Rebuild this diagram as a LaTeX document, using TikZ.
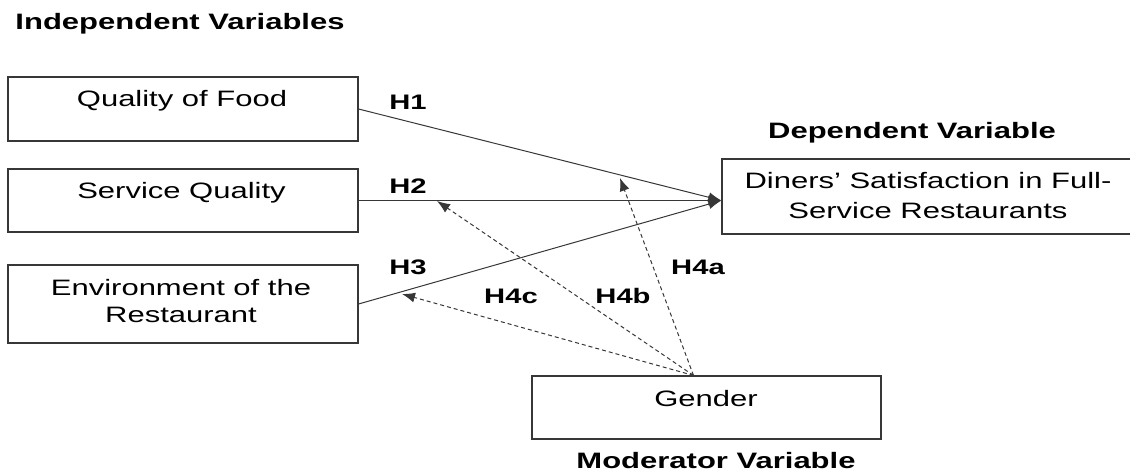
\documentclass[tikz,border=0pt]{standalone}
\usepackage{fontspec}
\setmainfont{Liberation Sans}[FakeStretch=1.39]
\usetikzlibrary{arrows.meta,calc}
\definecolor{linec}{RGB}{55,55,55}
\begin{document}
\begin{tikzpicture}[x=1pt,y=-1pt,
  box/.style={draw=linec, line width=1.1pt, rectangle, inner sep=0pt},
  txt/.style={anchor=base, inner sep=0pt, font=\fontsize{22.3}{26.8}\selectfont},
  head/.style={anchor=base, inner sep=0pt, font=\fontsize{22.3}{26.8}\selectfont\bfseries},
  hlab/.style={anchor=base, inner sep=0pt, font=\fontsize{21}{25}\selectfont\bfseries},
  path/.style={draw=linec, line width=1pt, -{Latex[length=13pt,width=10pt]}},
  mod/.style={draw=linec, line width=1pt, dash pattern=on 4pt off 3pt, -{Latex[length=13pt,width=10pt]}}]
\useasboundingbox (0,0) rectangle (1130,473);
\clip (0,0) rectangle (1130,473);
% boxes
\node[box, minimum width=350pt, minimum height=64pt] (qf) at (183,109) {};
\node[box, minimum width=350pt, minimum height=63pt] (sq) at (183,200.5) {};
\node[box, minimum width=350pt, minimum height=78pt] (env) at (183,304) {};
\node[box, minimum width=418pt, minimum height=75pt] (ds) at (931,196.5) {};
\node[box, minimum width=349pt, minimum height=63pt] (gd) at (706.5,407.5) {};
% texts
\node[head] (hiv) at (180,30) {Independent Variables};
\node[head] (hdv) at (912,139) {Dependent Variable};
\node[head] (hmv) at (716,468) {Moderator Variable};
\node[txt] (tqf) at (182,107) {Quality of Food};
\node[txt] (tsq) at (181.5,199) {Service Quality};
\node[txt] (tenva) at (181,295) {Environment of the};
\node[txt] (tenvb) at (181,322) {Restaurant};
\node[txt] (tdsa) at (928,189) {Diners’ Satisfaction in Full-};
\node[txt] (tdsb) at (928,219) {Service Restaurants};
\node[txt] (tgd) at (706,406) {Gender};
% hypothesis labels
\node[hlab] (h1) at (408,110) {H1};
\node[hlab] (h2) at (408,194) {H2};
\node[hlab] (h3) at (408,275) {H3};
\node[hlab] (h4c) at (511,303) {H4c};
\node[hlab] (h4b) at (623,303) {H4b};
\node[hlab] (h4a) at (698,275) {H4a};
% connector points
\coordinate (dsin) at (sq.east -| ds.west);
\coordinate (gtop) at ($(gd.north)+(-13,0)$);
\coordinate (t4a) at (620,178);
\coordinate (t4b) at (437,201);
\coordinate (t4c) at (402,294);
% direct effects
\draw[path] (qf.east) -- (dsin);
\draw[path] (sq.east) -- (dsin);
\draw[path] (env.east) -- (dsin);
% moderation
\draw[mod] (gtop) -- (t4a);
\draw[mod] (gtop) -- (t4b);
\draw[mod] (gtop) -- (t4c);
\end{tikzpicture}
\end{document}
